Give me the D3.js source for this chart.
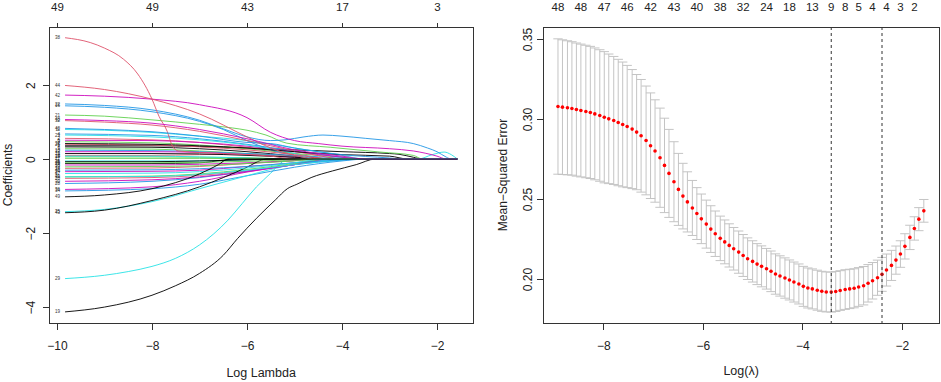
<!DOCTYPE html>
<html>
<head>
<meta charset="utf-8">
<script src="https://cdn.jsdelivr.net/npm/d3@7/dist/d3.min.js"></script>
<style>
  body { margin: 0; background: #fff; }
  svg { display: block; background: #fff; }
  .hz { font-family: "Liberation Sans Narrow", "Liberation Sans", Arial, sans-serif; }
  .vt { font-family: "Liberation Sans", Arial, sans-serif; }
</style>
</head>
<body>
<svg id="chart" width="941" height="382"></svg>
<script>
// ---- left panel: coefficient paths (knots) ----
var leftXTicks = [-10, -8, -6, -4, -2];
var leftYTicks = [-4, -2, 0, 2];
var leftTopLabels = [49, 49, 43, 17, 3];
var pathEnd = -1.57;

var coefPaths = [
  {v: 1,  k: [[-9.83,0.36],[-8,0.36],[-7,0.34],[-6,0.3],[-5,0.25],[-4,0.2],[-3,0.15],[-2.8,0.13],[-2.5,0.05],[-2.3,0]]},
  {v: 2,  k: [[-9.83,0.56],[-8,0.52],[-7,0.45],[-6,0.32],[-5,0.15],[-4.2,0]]},
  {v: 3,  k: [[-9.83,0.47],[-8,0.44],[-7,0.38],[-6,0.28],[-5,0.15],[-4,0.05],[-3.5,0]]},
  {v: 4,  k: [[-9.83,0.68],[-8,0.64],[-7,0.55],[-6,0.4],[-5,0.22],[-4,0.05],[-3.7,0]]},
  {v: 5,  k: [[-9.83,-0.05],[-7,-0.05],[-6,-0.02],[-5.5,0]]},
  {v: 6,  k: [[-9.83,0.51],[-8,0.5],[-7,0.45],[-6,0.35],[-5,0.2],[-4,0.05],[-3.6,0]]},
  {v: 7,  k: [[-9.83,0.33],[-8,0.32],[-7,0.28],[-6,0.2],[-5,0.08],[-4.5,0]]},
  {v: 8,  k: [[-9.83,0.1],[-8,0.1],[-7,0.12],[-6,0.14],[-5,0.08],[-4,0]]},
  {v: 9,  k: [[-9.83,0.28],[-8,0.27],[-7,0.22],[-6,0.15],[-5,0.05],[-4.6,0]]},
  {v: 10, k: [[-9.83,0.24],[-8,0.23],[-7,0.2],[-6,0.15],[-5,0.1],[-4,0.02],[-3.8,0]]},
  {v: 11, k: [[-9.83,0.8],[-9,0.78],[-8,0.72],[-7,0.62],[-6,0.5],[-5,0.3],[-4,0.1],[-3.5,0]]},
  {v: 12, k: [[-9.83,0.2],[-8,0.2],[-7,0.18],[-6,0.12],[-5,0.05],[-4.5,0]]},
  {v: 13, k: [[-9.83,0.15],[-8,0.15],[-7,0.14],[-6,0.1],[-5,0.05],[-4,0]]},
  {v: 14, k: [[-9.83,-0.25],[-8,-0.24],[-7,-0.2],[-6,-0.12],[-5,-0.04],[-4.6,0]]},
  {v: 15, k: [[-9.83,0.06],[-8,0.06],[-7,0.05],[-6,0.04],[-5,0]]},
  {v: 16, k: [[-9.83,1.44],[-9,1.4],[-8,1.28],[-7,1.02],[-6.5,0.8],[-6,0.5],[-5.5,0.25],[-5,0.1],[-4.5,0]]},
  {v: 17, k: [[-9.83,0.08],[-8,0.08],[-7,0.06],[-6,0.03],[-5,0],[-2.4,0],[-2.1,0.12],[-1.85,0.19],[-1.7,0.12],[-1.57,0]]},
  {v: 18, k: [[-9.83,-0.16],[-8,-0.16],[-7,-0.14],[-6,-0.1],[-5,-0.04],[-4.5,0]]},
  {v: 19, k: [[-9.83,-4.13],[-9,-4.0],[-8,-3.68],[-7.5,-3.42],[-7,-3.09],[-6.5,-2.6],[-6.2,-2.15],[-5.8,-1.6],[-5.4,-1.1],[-5.15,-0.8],[-4.95,-0.68],[-4.65,-0.5],[-4.2,-0.32],[-3.7,-0.15],[-3.3,0]]},
  {v: 20, k: [[-9.83,-0.52],[-8,-0.5],[-7,-0.44],[-6,-0.32],[-5,-0.15],[-4.2,0]]},
  {v: 21, k: [[-9.83,1.19],[-9,1.16],[-8,1.06],[-7,0.94],[-6.3,0.84],[-6,0.78],[-5.6,0.65],[-5.16,0.43],[-4.25,0.32],[-3.2,0.19],[-2.5,0.1],[-2.3,0]]},
  {v: 22, k: [[-9.83,1.49],[-9,1.45],[-8,1.33],[-7,1.05],[-6.5,0.82],[-6,0.6],[-5.5,0.5],[-5.2,0.52],[-4.8,0.6],[-4.4,0.65],[-4,0.62],[-3.5,0.56],[-3,0.5],[-2.5,0.42],[-2.2,0.3],[-2,0.2],[-1.8,0.05],[-1.7,0]]},
  {v: 23, k: [[-9.83,0.65],[-8,0.6],[-7,0.52],[-6,0.38],[-5,0.15],[-4.5,0]]},
  {v: 24, k: [[-9.83,-0.34],[-8,-0.33],[-7,-0.3],[-6,-0.2],[-5,-0.1],[-4.2,0]]},
  {v: 25, k: [[-9.83,-0.12],[-8,-0.12],[-7,-0.1],[-6.5,-0.03],[-6.3,0]]},
  {v: 26, k: [[-9.83,0.4],[-8,0.38],[-7,0.33],[-6,0.25],[-5,0.12],[-4.2,0]]},
  {v: 27, k: [[-9.83,0.02],[-7,0.02],[-6,0.01],[-5.5,0]]},
  {v: 28, k: [[-9.83,-0.66],[-8,-0.6],[-7,-0.5],[-6,-0.33],[-5,-0.15],[-4,-0.03],[-3.6,0]]},
  {v: 29, k: [[-9.83,-3.23],[-9,-3.14],[-8.5,-3.04],[-8,-2.9],[-7.5,-2.68],[-7,-2.32],[-6.7,-2.02],[-6.4,-1.65],[-6.1,-1.2],[-5.8,-0.75],[-5.5,-0.38],[-5.3,-0.12],[-5.15,0]]},
  {v: 30, k: [[-9.83,-0.6],[-8,-0.56],[-7,-0.48],[-6,-0.34],[-5,-0.15],[-4.1,0]]},
  {v: 31, k: [[-9.83,-0.07],[-8,-0.07],[-7,-0.05],[-6,-0.02],[-5.5,0]]},
  {v: 32, k: [[-9.83,1.04],[-9,1.0],[-8,0.92],[-7,0.75],[-6,0.5],[-5,0.22],[-4.3,0.05],[-4,0]]},
  {v: 33, k: [[-9.83,-0.21],[-8,-0.2],[-7,-0.18],[-6,-0.12],[-5,-0.05],[-4.4,0]]},
  {v: 34, k: [[-9.83,-0.86],[-8,-0.8],[-7,-0.68],[-6,-0.45],[-5,-0.22],[-4,-0.05],[-3.5,0]]},
  {v: 35, k: [[-9.83,-1.42],[-9,-1.36],[-8,-1.15],[-7,-0.8],[-6,-0.45],[-5.5,-0.28],[-5,-0.14],[-4.5,-0.05],[-4,0]]},
  {v: 36, k: [[-9.83,-0.82],[-8,-0.75],[-7,-0.6],[-6,-0.35],[-5,-0.15],[-4.3,0]]},
  {v: 37, k: [[-9.83,0.42],[-8,0.4],[-7,0.36],[-6,0.3],[-5,0.2],[-4,0.12],[-3,0.08],[-2.6,0]]},
  {v: 38, k: [[-9.83,3.28],[-9.3,3.15],[-9,3.0],[-8.6,2.7],[-8.3,2.3],[-8,1.62],[-7.85,1.15],[-7.68,0.75],[-7.58,0.38],[-7.45,0.22],[-6.5,0.15],[-5.5,0.08],[-5,0]]},
  {v: 39, k: [[-9.83,-0.48],[-8,-0.46],[-7,-0.4],[-6,-0.28],[-5,-0.12],[-4.3,0]]},
  {v: 40, k: [[-9.83,0.83],[-9,0.8],[-8,0.74],[-7,0.62],[-6,0.45],[-5.5,0.42],[-5,0.3],[-4,0.12],[-3,0.03],[-2.7,0]]},
  {v: 41, k: [[-9.83,-0.48],[-8,-0.47],[-7,-0.42],[-6,-0.3],[-5,-0.15],[-4,-0.02],[-3.8,0]]},
  {v: 42, k: [[-9.83,1.73],[-9,1.7],[-8,1.62],[-7,1.47],[-6,1.12],[-5.5,0.72],[-5,0.5],[-4.5,0.42],[-4,0.35],[-3,0.28],[-2.5,0.22],[-2,0.08],[-1.8,0]]},
  {v: 43, k: [[-9.83,-1.45],[-9,-1.38],[-8,-1.12],[-7,-0.75],[-6.5,-0.5],[-6,-0.22],[-5.7,-0.03],[-5.6,0]]},
  {v: 44, k: [[-9.83,1.99],[-9,1.88],[-8,1.62],[-7,1.22],[-6,0.6],[-5.5,0.3],[-5,0.1],[-4.5,0]]},
  {v: 45, k: [[-9.83,-0.1],[-8,-0.1],[-7,-0.09],[-6,-0.06],[-5,-0.02],[-4.5,0]]},
  {v: 46, k: [[-9.83,-0.3],[-8,-0.29],[-7,-0.26],[-6,-0.2],[-5,-0.1],[-4,-0.02],[-3.7,0]]},
  {v: 47, k: [[-9.83,-0.39],[-8,-0.38],[-7,-0.34],[-6,-0.24],[-5,-0.1],[-4.4,0]]},
  {v: 48, k: [[-9.83,1.07],[-9,1.04],[-8,0.97],[-7,0.8],[-6,0.55],[-5,0.25],[-4,0.08],[-3.5,0]]},
  {v: 49, k: [[-9.83,-1.02],[-9,-0.97],[-8,-0.8],[-7,-0.4],[-6.6,-0.15],[-6.4,0]]}
];

// ---- right panel: cross-validation curve ----
var logLambda = [
  -8.91,-8.82,-8.72,-8.63,-8.54,-8.45,-8.35,-8.26,-8.17,-8.07,
  -7.98,-7.89,-7.79,-7.70,-7.61,-7.52,-7.42,-7.33,-7.24,-7.14,
  -7.05,-6.96,-6.86,-6.77,-6.68,-6.58,-6.49,-6.40,-6.31,-6.21,
  -6.12,-6.03,-5.93,-5.84,-5.75,-5.65,-5.56,-5.47,-5.38,-5.28,
  -5.19,-5.10,-5.00,-4.91,-4.82,-4.72,-4.63,-4.54,-4.45,-4.35,
  -4.26,-4.17,-4.07,-3.98,-3.89,-3.80,-3.70,-3.61,-3.52,-3.42,
  -3.33,-3.24,-3.14,-3.05,-2.96,-2.87,-2.77,-2.68,-2.59,-2.49,
  -2.40,-2.31,-2.21,-2.12,-2.03,-1.94,-1.84,-1.75,-1.66,-1.56
];
var cvm = [
  0.3078,0.3074,0.3070,0.3066,0.3059,0.3053,0.3047,0.3041,0.3032,0.3022,
  0.3011,0.3001,0.2991,0.2978,0.2966,0.2953,0.2937,0.2918,0.2895,0.2866,
  0.2833,0.2800,0.2758,0.2710,0.2660,0.2608,0.2560,0.2518,0.2482,0.2444,
  0.2409,0.2376,0.2343,0.2312,0.2283,0.2254,0.2232,0.2210,0.2189,0.2168,
  0.2147,0.2127,0.2110,0.2093,0.2079,0.2064,0.2048,0.2031,0.2019,0.2006,
  0.1994,0.1981,0.1969,0.1954,0.1944,0.1938,0.1930,0.1923,0.1919,0.1918,
  0.1922,0.1928,0.1934,0.1938,0.1942,0.1950,0.1958,0.1973,0.1989,0.2008,
  0.2029,0.2056,0.2085,0.2118,0.2156,0.2204,0.2260,0.2316,0.2374,0.2426
];
var cvsd = [
  0.0423,0.0421,0.0419,0.0417,0.0416,0.0415,0.0414,0.0413,0.0412,0.0411,
  0.0410,0.0405,0.0400,0.0395,0.0390,0.0382,0.0372,0.0360,0.0352,0.0340,
  0.0330,0.0320,0.0310,0.0295,0.0275,0.0250,0.0225,0.0205,0.0188,0.0172,
  0.0162,0.0155,0.0150,0.0146,0.0142,0.0139,0.0137,0.0135,0.0133,0.0132,
  0.0131,0.0130,0.0129,0.0128,0.0128,0.0127,0.0127,0.0126,0.0126,0.0126,
  0.0125,0.0125,0.0125,0.0125,0.0125,0.0125,0.0125,0.0125,0.0125,0.0125,
  0.0125,0.0124,0.0124,0.0123,0.0122,0.0121,0.0120,0.0117,0.0114,0.0110,
  0.0106,0.0100,0.0094,0.0088,0.0083,0.0079,0.0076,0.0073,0.0072,0.0071
];
var dfLabelAt = [-8.91,-8.45,-7.98,-7.52,-7.05,-6.58,-6.12,-5.65,-5.19,-4.72,-4.26,-3.80,-3.42,-3.14,-2.87,-2.59,-2.31,-2.03,-1.75];
var dfLabels = [48, 48, 47, 46, 42, 43, 40, 38, 32, 24, 18, 13, 9, 8, 5, 4, 4, 3, 2];
var lambdaMin = -3.42;
var lambda1se = -2.40;
var rightXTicks = [-8, -6, -4, -2];
var rightYTicks = [0.20, 0.25, 0.30, 0.35];

var rPalette = ["#000000", "#DF536B", "#61D04F", "#2297E6", "#28E2E5", "#CD0BBC"];

var svg = d3.select("#chart");
var axisColor = "#333";
var textColor = "#222";

// panel boxes
var L = {x0: 49, x1: 473.3, y0: 27, y1: 323};
var R = {x0: 543.3, x1: 939, y0: 27, y1: 323};

var xL = d3.scaleLinear().domain([-10.168, -1.236]).range([L.x0, L.x1]);
var yL = d3.scaleLinear().domain([-4.43, 3.57]).range([L.y1, L.y0]);
var xR = d3.scaleLinear().domain([-9.205, -1.255]).range([R.x0, R.x1]);
var yR = d3.scaleLinear().domain([0.1725, 0.3575]).range([R.y1, R.y0]);

function styleAxis(g) {
  g.attr("font-size", null).attr("font-family", null);
  g.select(".domain").remove();
  g.selectAll(".tick line").attr("stroke", axisColor).attr("shape-rendering", "crispEdges");
  g.selectAll(".tick text").attr("fill", textColor);
}

function drawBox(p) {
  svg.append("rect")
    .attr("x", p.x0).attr("y", p.y0)
    .attr("width", p.x1 - p.x0).attr("height", p.y1 - p.y0)
    .attr("fill", "none").attr("stroke", axisColor).attr("stroke-width", 1)
    .attr("shape-rendering", "crispEdges");
}

// ---------- LEFT PANEL ----------
var lineL = d3.line()
  .x(function (d) { return xL(d[0]); })
  .y(function (d) { return yL(d[1]); })
  .curve(d3.curveMonotoneX);

var gPaths = svg.append("g");
coefPaths.forEach(function (p) {
  var knots = p.k.slice();
  if (knots[knots.length - 1][0] < pathEnd) knots.push([pathEnd, 0]);
  gPaths.append("path")
    .attr("d", lineL(knots))
    .attr("fill", "none")
    .attr("stroke", rPalette[(p.v - 1) % 6])
    .attr("stroke-width", 1)
    .attr("stroke-opacity", 0.9);
});

svg.append("g").selectAll("text")
  .data(coefPaths)
  .enter().append("text")
  .attr("class", "hz")
  .attr("x", xL(-9.83) - 5)
  .attr("y", function (d) { return yL(d.k[0][1]); })
  .attr("dy", "0.35em")
  .attr("text-anchor", "end")
  .attr("font-size", 4.5)
  .attr("fill", "#333")
  .text(function (d) { return d.v; });

drawBox(L);

svg.append("g").attr("class", "hz")
  .attr("transform", "translate(0," + L.y1 + ")")
  .call(d3.axisBottom(xL).tickValues(leftXTicks).tickSize(7).tickPadding(11.5).tickFormat(d3.format("d")))
  .call(styleAxis)
  .selectAll("text").attr("font-size", 12);

svg.append("g").attr("class", "hz")
  .attr("transform", "translate(0," + L.y0 + ")")
  .call(d3.axisTop(xL).tickValues(leftXTicks).tickSize(4).tickPadding(12.3)
    .tickFormat(function (d, i) { return leftTopLabels[i]; }))
  .call(styleAxis)
  .selectAll("text").attr("font-size", 11.5);

svg.append("g").attr("class", "vt")
  .attr("transform", "translate(" + L.x0 + ",0)")
  .call(d3.axisLeft(yL).tickValues(leftYTicks).tickSize(6.3).tickFormat(d3.format("d")))
  .call(styleAxis)
  .selectAll("text")
  .attr("font-size", 12)
  .attr("x", 0).attr("y", -14.5).attr("dy", 0)
  .attr("text-anchor", "middle")
  .attr("transform", "rotate(-90)");

svg.append("text").attr("class", "hz")
  .attr("x", (L.x0 + L.x1) / 2).attr("y", 377)
  .attr("text-anchor", "middle").attr("font-size", 12.5).attr("fill", textColor)
  .text("Log Lambda");

svg.append("text").attr("class", "vt")
  .attr("transform", "translate(12," + (L.y0 + L.y1) / 2 + ") rotate(-90)")
  .attr("text-anchor", "middle").attr("font-size", 12).attr("fill", textColor)
  .text("Coefficients");

// ---------- RIGHT PANEL ----------
var capHalf = 4.7;
var cv = logLambda.map(function (x, i) {
  return {x: x, m: cvm[i], up: cvm[i] + cvsd[i], lo: cvm[i] - cvsd[i]};
});

var gBars = svg.append("g")
  .attr("stroke", "#c4c4c4").attr("stroke-width", 1).attr("fill", "none");
gBars.selectAll(".bar").data(cv).enter().append("line")
  .attr("x1", function (d) { return xR(d.x); }).attr("x2", function (d) { return xR(d.x); })
  .attr("y1", function (d) { return yR(d.up); }).attr("y2", function (d) { return yR(d.lo); });
gBars.selectAll(".capU").data(cv).enter().append("line")
  .attr("x1", function (d) { return xR(d.x) - capHalf; }).attr("x2", function (d) { return xR(d.x) + capHalf; })
  .attr("y1", function (d) { return yR(d.up); }).attr("y2", function (d) { return yR(d.up); });
gBars.selectAll(".capL").data(cv).enter().append("line")
  .attr("x1", function (d) { return xR(d.x) - capHalf; }).attr("x2", function (d) { return xR(d.x) + capHalf; })
  .attr("y1", function (d) { return yR(d.lo); }).attr("y2", function (d) { return yR(d.lo); });

svg.append("g").selectAll("circle").data(cv).enter().append("circle")
  .attr("cx", function (d) { return xR(d.x); })
  .attr("cy", function (d) { return yR(d.m); })
  .attr("r", 1.8)
  .attr("fill", "#ff0000");

[lambdaMin, lambda1se].forEach(function (v) {
  svg.append("line")
    .attr("x1", xR(v)).attr("x2", xR(v))
    .attr("y1", R.y0).attr("y2", R.y1)
    .attr("stroke", "#333").attr("stroke-width", 1)
    .attr("stroke-dasharray", "3,3");
});

drawBox(R);

svg.append("g").attr("class", "hz")
  .attr("transform", "translate(0," + R.y1 + ")")
  .call(d3.axisBottom(xR).tickValues(rightXTicks).tickSize(6.7).tickPadding(11.5).tickFormat(d3.format("d")))
  .call(styleAxis)
  .selectAll("text").attr("font-size", 12);

svg.append("g").attr("class", "vt")
  .attr("transform", "translate(" + R.x0 + ",0)")
  .call(d3.axisLeft(yR).tickValues(rightYTicks).tickSize(6.7).tickFormat(d3.format(".2f")))
  .call(styleAxis)
  .selectAll("text")
  .attr("font-size", 12)
  .attr("x", 0).attr("y", -11.6).attr("dy", 0)
  .attr("text-anchor", "middle")
  .attr("transform", "rotate(-90)");

svg.append("g").selectAll("text").data(dfLabels).enter().append("text")
  .attr("class", "hz")
  .attr("x", function (d, i) { return xR(dfLabelAt[i]); })
  .attr("y", 10.7)
  .attr("text-anchor", "middle").attr("font-size", 11.5).attr("fill", textColor)
  .text(function (d) { return d; });

svg.append("text").attr("class", "hz")
  .attr("x", (R.x0 + R.x1) / 2).attr("y", 374.5)
  .attr("text-anchor", "middle").attr("font-size", 12.5).attr("fill", textColor)
  .text("Log(λ)");

svg.append("text").attr("class", "vt")
  .attr("transform", "translate(507," + (R.y0 + R.y1) / 2 + ") rotate(-90)")
  .attr("text-anchor", "middle").attr("font-size", 12).attr("fill", textColor)
  .text("Mean\u2212Squared Error");
</script>
</body>
</html>
